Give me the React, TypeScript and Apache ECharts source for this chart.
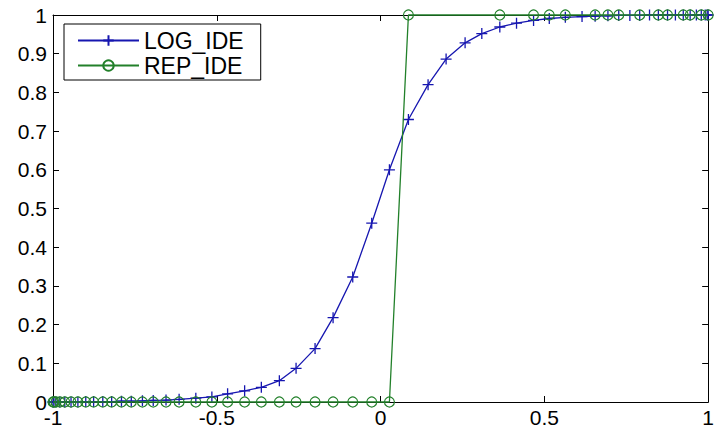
import React, { useEffect, useRef } from "react";
import * as echarts from "echarts";

const logX = [-1, -0.997, -0.991, -0.979, -0.964, -0.945, -0.924, -0.9, -0.876, -0.848, -0.821, -0.791, -0.761, -0.727, -0.694, -0.655, -0.615, -0.564, -0.515, -0.467, -0.415, -0.364, -0.309, -0.258, -0.2, -0.145, -0.085, -0.027, 0.027, 0.085, 0.145, 0.2, 0.258, 0.309, 0.364, 0.415, 0.467, 0.515, 0.564, 0.615, 0.655, 0.694, 0.727, 0.761, 0.791, 0.821, 0.848, 0.876, 0.9, 0.924, 0.945, 0.964, 0.979, 0.991, 0.997, 1];
const logY = [0, 0, 0, 0, 0, 0, 0, 0.001, 0.001, 0.001, 0.001, 0.002, 0.002, 0.003, 0.004, 0.005, 0.007, 0.01, 0.013, 0.021, 0.029, 0.038, 0.055, 0.087, 0.138, 0.218, 0.323, 0.462, 0.6, 0.73, 0.82, 0.886, 0.928, 0.952, 0.969, 0.979, 0.986, 0.991, 0.994, 0.996, 0.997, 0.998, 0.999, 0.999, 0.999, 1, 1, 1, 1, 1, 1, 1, 1, 1, 1, 1];

const repX = [-1, -0.997, -0.991, -0.979, -0.964, -0.945, -0.924, -0.9, -0.876, -0.848, -0.821, -0.791, -0.761, -0.727, -0.694, -0.655, -0.615, -0.564, -0.515, -0.467, -0.415, -0.364, -0.309, -0.258, -0.2, -0.145, -0.085, -0.027, 0.027, 0.085, 0.364, 0.467, 0.515, 0.564, 0.655, 0.694, 0.727, 0.791, 0.848, 0.876, 0.924, 0.945, 0.979, 1];
const repY = [0, 0, 0, 0, 0, 0, 0, 0, 0, 0, 0, 0, 0, 0, 0, 0, 0, 0, 0, 0, 0, 0, 0, 0, 0, 0, 0, 0, 0, 1, 1, 1, 1, 1, 1, 1, 1, 1, 1, 1, 1, 1, 1, 1];

const seriesNames = ["LOG_IDE", "REP_IDE"];
const xTicks = { min: -1, max: 1, interval: 0.5 };
const yTicks = { min: 0, max: 1, interval: 0.1 };

const BLUE = "#1616b0";
const GREEN = "#22802a";
const FONT = "'Liberation Sans', Arial, sans-serif";

export default function App() {
  const ref = useRef<HTMLDivElement>(null);
  useEffect(() => {
    if (!ref.current) return;
    const chart = echarts.init(ref.current, undefined, { renderer: "svg" });
    const pair = (xs: number[], ys: number[]) => xs.map((x, i) => [x, ys[i]]);
    const axisLine = { show: true, onZero: false, lineStyle: { color: "#000", width: 1 } };
    const tick = { show: true, inside: true, length: 6, lineStyle: { color: "#000", width: 1 } };
    chart.setOption({
      animation: false,
      backgroundColor: "#fff",
      textStyle: { fontFamily: FONT },
      grid: { left: 53, right: 4, top: 15, bottom: 26, containLabel: false },
      xAxis: [
        {
          type: "value", ...xTicks, position: "bottom",
          axisLine, axisTick: tick, splitLine: { show: false },
          axisLabel: { color: "#000", fontSize: 21, fontFamily: FONT, margin: 5 },
        },
        {
          type: "value", ...xTicks, position: "top",
          axisLine, axisTick: tick, splitLine: { show: false },
          axisLabel: { show: false },
        },
      ],
      yAxis: [
        {
          type: "value", ...yTicks, position: "left",
          axisLine, axisTick: tick, splitLine: { show: false },
          axisLabel: { color: "#000", fontSize: 21, fontFamily: FONT, margin: 6 },
        },
        {
          type: "value", ...yTicks, position: "right",
          axisLine, axisTick: tick, splitLine: { show: false },
          axisLabel: { show: false },
        },
      ],
      legend: {
        orient: "vertical",
        left: 64,
        top: 24,
        padding: [5, 17, 3, 13],
        itemWidth: 61,
        itemHeight: 13,
        itemGap: 2,
        backgroundColor: "#fff",
        borderColor: "#000",
        borderWidth: 1,
        borderRadius: 0,
        textStyle: { color: "#000", fontSize: 23, fontFamily: FONT, lineHeight: 23, padding: [0, 0, 0, 0] },
        data: seriesNames,
      },
      series: [
        {
          name: seriesNames[0],
          type: "line",
          data: pair(logX, logY),
          symbol: "path://M0,5L10,5M5,0L5,10",
          symbolSize: 11,
          showAllSymbol: true,
          clip: false,
          lineStyle: { color: BLUE, width: 1.3 },
          itemStyle: { color: "transparent", borderColor: BLUE, borderWidth: 1.3 },
          z: 2,
        },
        {
          name: seriesNames[1],
          type: "line",
          data: pair(repX, repY),
          symbol: "circle",
          symbolSize: 10,
          showAllSymbol: true,
          clip: false,
          lineStyle: { color: GREEN, width: 1.3 },
          itemStyle: { color: "transparent", borderColor: GREEN, borderWidth: 1.2 },
          z: 3,
        },
      ],
    });
    return () => chart.dispose();
  }, []);
  return (
    <div
      ref={ref}
      style={{ position: "absolute", left: 0, top: 0, width: 717, height: 428, background: "#fff" }}
    />
  );
}
